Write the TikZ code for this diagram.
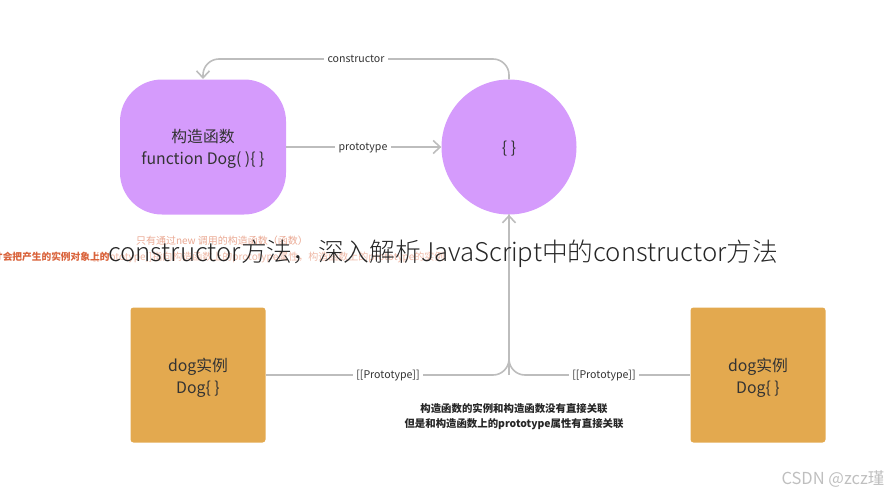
\documentclass[tikz,border=0pt]{standalone}
\usepackage{fontspec}
\setmainfont{Noto Sans CJK SC}
\newfontfamily\titlefont{Noto Sans CJK SC Light}
\usetikzlibrary{arrows.meta}
\definecolor{funcpurple}{HTML}{D59BFC}
\definecolor{instorange}{HTML}{E3A94F}
\definecolor{linkgray}{HTML}{BDBDBD}
\definecolor{notered}{HTML}{D9623A}
\tikzset{
    link/.style={draw=linkgray, line width=1.6pt, rounded corners=16pt},
    linklabel/.style={font=\fontsize{10.6}{12}\selectfont, text=black!80, text height=9pt, text depth=2.4pt},
    boxtext/.style={font=\fontsize{15.8}{22}\selectfont, align=center, text=black!80},
    notetext/.style={font=\fontsize{10.4}{15}\selectfont\bfseries, align=center, text=black!85},
    redtext/.style={font=\fontsize{10}{12}\selectfont, text=notered}
}
\begin{document}
\begin{tikzpicture}[>={Straight Barb[length=7pt,width=13pt]}, x=1pt, y=-1pt]
\useasboundingbox (0,0) rectangle (886,490);

\node[fill=funcpurple, rounded corners=42pt, minimum width=166pt, minimum height=135pt] (func) at (203,147) {};
\node[fill=funcpurple, circle, minimum size=135pt] (proto) at (509,147) {};
\node[fill=instorange, rounded corners=3pt, minimum width=135pt, minimum height=135pt] (dogleft) at (198,375) {};
\node[fill=instorange, rounded corners=3pt, minimum width=135pt, minimum height=135pt] (dogright) at (758,375) {};

\node[boxtext] (functext) at (203,149) {构造函数\\function Dog( )\{ \}};
\node[boxtext] (prototext) at (509,148.5) {\{ \}};
\node[boxtext] (dogleftext) at (198,377.5) {dog实例\\Dog\{ \}};
\node[boxtext] (dogrightext) at (758,377.5) {dog实例\\Dog\{ \}};

\node[linklabel] (ctorlabel) at (356,59) {constructor};
\node[linklabel] (protolabel) at (363,147) {prototype};
\node[linklabel] (leftlabel) at (388,375) {[[Prototype]]};
\node[linklabel] (rightlabel) at (604,375) {[[Prototype]]};

\coordinate (ctorturn) at (509,59);
\coordinate (functop) at (203,79);
\coordinate (join) at (509,375);

\draw[link] (proto.north) -- (ctorturn) -- (ctorlabel.east);
\draw[link, ->] (ctorlabel.west) -- (functop |- ctorlabel) -- (functop);
\draw[link] (func.east) -- (protolabel.west);
\draw[link, ->] (protolabel.east) -- (proto.west);
\draw[link] (dogleft.east) -- (leftlabel.west);
\draw[link] (leftlabel.east) -- (join) -- (proto.south);
\draw[link] (rightlabel.west) -- (join) -- (proto.south);
\draw[link, ->] (join) -- (proto.south);
\draw[link] (rightlabel.east) -- (dogright.west);

\node[notetext] (note) at (514,416.5) {构造函数的实例和构造函数没有直接关联\\但是和构造函数上的prototype属性有直接关联};
\node[redtext, opacity=.55] (redone) at (222,241) {只有通过new 调用的构造函数（函数）};
\node[redtext, anchor=east, font=\fontsize{9.7}{12}\selectfont\bfseries] (redtwo) at (113,257) {才会把产生的实例对象上的};
\node[redtext, anchor=east, opacity=.45] (redthree) at (448,257) {[[Prototype]]指向构造函数上的prototype属性，构造函数上的prototype的实例};
\node[font=\fontsize{25.7}{28}\titlefont, text=black!85] (title) at (443,254) {constructor方法，深入解析JavaScript中的constructor方法};
\node[font=\fontsize{16.5}{18}\selectfont, text=black!25, anchor=west] (mark) at (778,479) {CSDN @zcz瑾};
\end{tikzpicture}
\end{document}
